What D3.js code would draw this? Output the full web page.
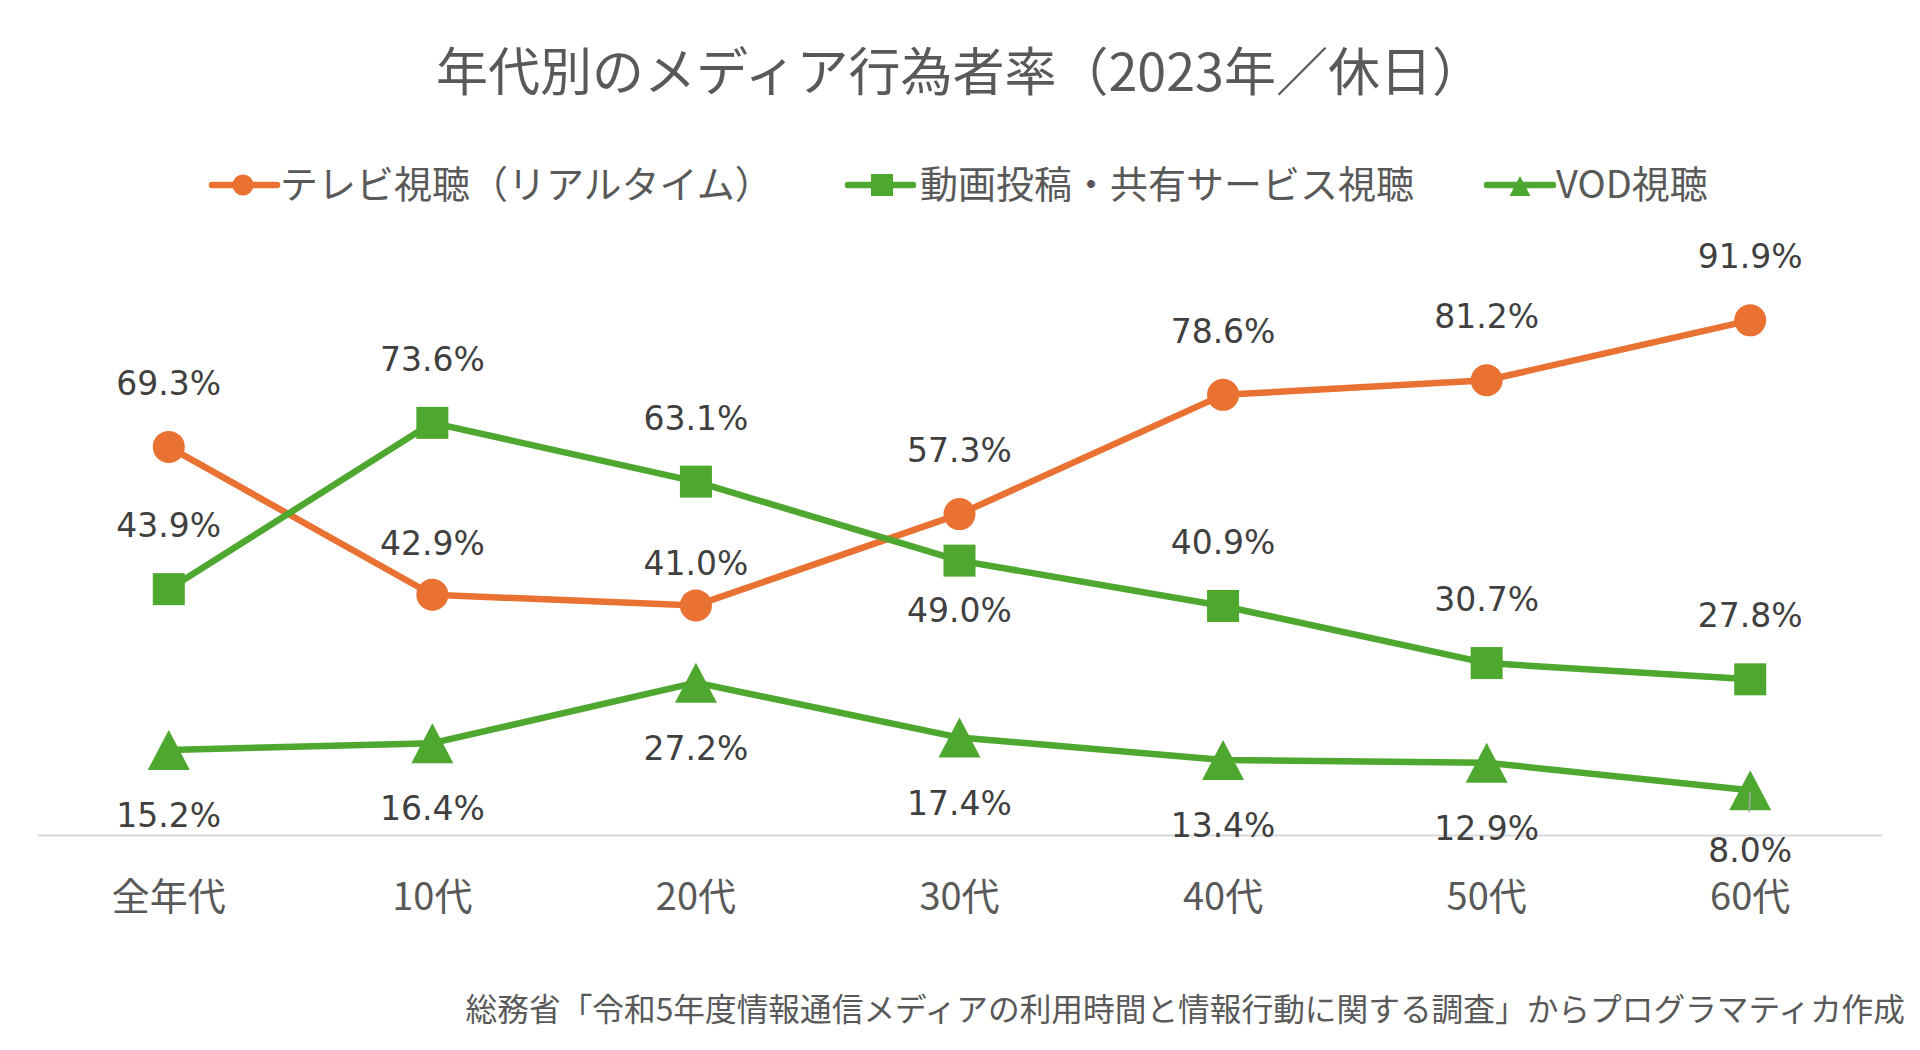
<!DOCTYPE html>
<html>
<head>
<meta charset="utf-8">
<script src="https://cdn.jsdelivr.net/npm/d3@7"></script>
<style>
  html, body { margin: 0; padding: 0; background: #ffffff; }
  svg { display: block; }
</style>
</head>
<body>
<script>
// ---- data ----
const categories = ["全年代", "10代", "20代", "30代", "40代", "50代", "60代"];
const tvValues = [69.3, 42.9, 41.0, 57.3, 78.6, 81.2, 91.9];
const videoValues = [43.9, 73.6, 63.1, 49.0, 40.9, 30.7, 27.8];
const vodValues = [15.2, 16.4, 27.2, 17.4, 13.4, 12.9, 8.0];
const seriesNames = ["テレビ視聴（リアルタイム）", "動画投稿・共有サービス視聴", "VOD視聴"];
const videoLabelPlacement = ["above", "above", "above", "below", "above", "above", "above"];
const titleText = "年代別のメディア行為者率（2023年／休日）";
const sourceText = "総務省「令和5年度情報通信メディアの利用時間と情報行動に関する調査」からプログラマティカ作成";

// ---- setup ----
const W = 1920, H = 1050;
const ORANGE = "#E97132", GREEN = "#4EA72E";
const CJK = "'Noto Sans CJK JP', 'Noto Sans', sans-serif";
const NUM = "'DejaVu Sans', Verdana, sans-serif";
// manual label nudges (px, downward) for the TV series, as in the original chart
const tvLabelNudge = [0, 12, 22, 0, 0, 0, 0];

const svg = d3.select("body").append("svg").attr("width", W).attr("height", H);

const x = d3.scaleBand().domain(categories).range([37, 1882]).padding(0);
const y = d3.scaleLinear().domain([0, 100]).range([835, 275]);
const cx = c => x(c) + x.bandwidth() / 2;

// title
svg.append("text")
  .attr("x", 960).attr("y", 73 + 0.35 * 52)
  .attr("text-anchor", "middle")
  .style("font-family", CJK).style("font-size", "52px").style("fill", "#595959")
  .text(titleText);

// axis (baseline only)
const xAxis = d3.axisBottom(x).tickSize(0).tickPadding(0);
const gx = svg.append("g").attr("transform", `translate(0,${y(0)})`).call(xAxis);
gx.select(".domain").attr("stroke", "#d9d9d9").attr("stroke-width", 2);
gx.selectAll(".tick text")
  .attr("y", 0).attr("dy", null)
  .attr("transform", `translate(0,${897 - y(0) + 0.35 * 38})`)
  .style("font-family", CJK).style("font-size", "38px").style("fill", "#595959");

// series
const series = [
  { name: seriesNames[0], values: tvValues, color: ORANGE, marker: "circle" },
  { name: seriesNames[1], values: videoValues, color: GREEN, marker: "square" },
  { name: seriesNames[2], values: vodValues, color: GREEN, marker: "triangle" }
];

const line = d3.line().x(d => cx(d.c)).y(d => y(d.v));

function drawMarker(g, type, px, py, size, color) {
  if (type === "circle") {
    g.append("circle").attr("cx", px).attr("cy", py).attr("r", size / 2).attr("fill", color);
  } else if (type === "square") {
    g.append("rect").attr("x", px - size / 2).attr("y", py - size / 2)
      .attr("width", size).attr("height", size).attr("fill", color);
  } else {
    const h = size * 40 / 42;
    g.append("path")
      .attr("d", `M${px},${py - h / 2}L${px + size / 2},${py + h / 2}L${px - size / 2},${py + h / 2}Z`)
      .attr("fill", color);
  }
}

const plot = svg.append("g");
series.forEach(s => {
  const pts = categories.map((c, i) => ({ c, v: s.values[i] }));
  plot.append("path").datum(pts)
    .attr("d", line)
    .attr("fill", "none").attr("stroke", s.color)
    .attr("stroke-width", 6.5).attr("stroke-linejoin", "round");
});
series.forEach(s => {
  const g = plot.append("g");
  categories.forEach((c, i) => {
    const size = s.marker === "triangle" ? 42 : 32;
    drawMarker(g, s.marker, cx(c), y(s.values[i]), size, s.color);
  });
});

// data labels
const labelFs = 33;
const labels = svg.append("g");
series.forEach((s, si) => {
  categories.forEach((c, i) => {
    const px = cx(c), py = y(s.values[i]);
    let cy;
    let leader = false;
    if (si === 0) cy = py - 64 + tvLabelNudge[i];
    else if (si === 1) cy = videoLabelPlacement[i] === "above" ? py - 64 : py + 49;
    else {
      cy = py + 65;
      if (cy > 849.5) { cy = 849.5; leader = true; }
    }
    if (leader) {
      labels.append("line").attr("x1", px).attr("y1", py + 2)
        .attr("x2", px - 1).attr("y2", py + 22)
        .attr("stroke", "#a6a6a6").attr("stroke-width", 1.5);
    }
    labels.append("text")
      .attr("x", px).attr("y", cy + 0.365 * labelFs)
      .attr("text-anchor", "middle")
      .style("font-family", NUM).style("font-size", labelFs + "px").style("fill", "#404040")
      .text(s.values[i].toFixed(1) + "%");
  });
});

// legend
const legendItems = [
  { x0: 212, x1: 277, mx: 243, tx: 280 },
  { x0: 848, x1: 913, mx: 882, tx: 920 },
  { x0: 1487, x1: 1553, mx: 1520, tx: 1556 }
];
const ly = 185;
const lg = svg.append("g");
series.forEach((s, i) => {
  const it = legendItems[i];
  lg.append("line").attr("x1", it.x0).attr("x2", it.x1).attr("y1", ly).attr("y2", ly)
    .attr("stroke", s.color).attr("stroke-width", 6.5).attr("stroke-linecap", "round");
  const size = s.marker === "circle" ? 21 : (s.marker === "square" ? 22 : 21);
  drawMarker(lg, s.marker, it.mx, ly + (s.marker === "triangle" ? 1 : 0), size, s.color);
  lg.append("text").attr("x", it.tx).attr("y", ly + 0.35 * 38)
    .style("font-family", CJK).style("font-size", "38px").style("fill", "#595959")
    .text(s.name);
});

// source note
svg.append("text")
  .attr("x", 1905).attr("y", 1010 + 0.35 * 31.7)
  .attr("text-anchor", "end")
  .style("font-family", CJK).style("font-size", "31.7px").style("fill", "#595959")
  .text(sourceText);
</script>
</body>
</html>
